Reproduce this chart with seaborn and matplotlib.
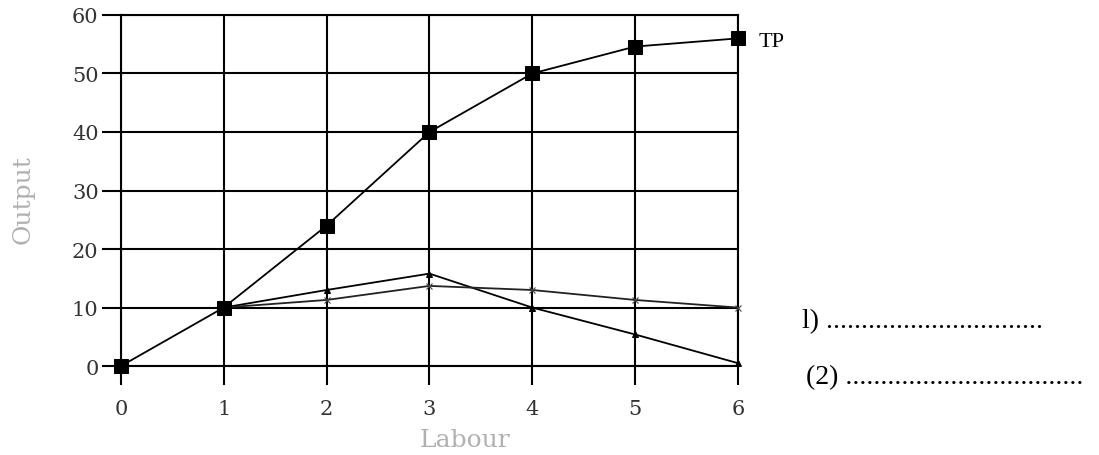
import matplotlib
matplotlib.use("Agg")
import matplotlib.pyplot as plt
import seaborn as sns
import pandas as pd

sns.set_style("white")

labour = [0, 1, 2, 3, 4, 5, 6]
tp = [0, 10, 24, 40, 50, 54.6, 56]
mp_labour = [1, 2, 3, 4, 5, 6]
mp = [10, 13, 15.8, 10, 5.4, 0.5]
ap_labour = [1, 2, 3, 4, 5, 6]
ap = [10, 11.3, 13.7, 13, 11.3, 10]

y_ticks = [0, 10, 20, 30, 40, 50, 60]

tp_df = pd.DataFrame({"Labour": labour, "Output": tp})
mp_df = pd.DataFrame({"Labour": mp_labour, "Output": mp})
ap_df = pd.DataFrame({"Labour": ap_labour, "Output": ap})

fig = plt.figure(figsize=(10.99, 4.56), dpi=100)
ax = fig.add_axes([0.110, 0.195, 0.5615, 0.770])

# grid first so the curves sit on top
ax.set_axisbelow(True)
ax.grid(True, color="black", linewidth=1.5)

sns.lineplot(data=tp_df, x="Labour", y="Output", ax=ax, color="black",
             linewidth=1.3, marker="s", markersize=10, markeredgecolor="black",
             clip_on=False, zorder=5)
sns.lineplot(data=mp_df, x="Labour", y="Output", ax=ax, color="black",
             linewidth=1.3, marker="^", markersize=4, markeredgecolor="black",
             clip_on=False, zorder=4)
sns.lineplot(data=ap_df, x="Labour", y="Output", ax=ax, color="#222222",
             linewidth=1.3, marker="x", markersize=5, markeredgewidth=0.8,
             markeredgecolor="#444444", clip_on=False, zorder=4)

ax.set_xlim(0, 6)
ax.set_ylim(0, 60)
ax.set_xticks(labour)
ax.set_yticks(y_ticks)

for s in ax.spines.values():
    s.set_color("black")
    s.set_linewidth(1.5)

ax.tick_params(axis="both", direction="out", length=14, width=1.5,
               bottom=True, left=True, color="black",
               labelcolor="#333333", labelsize=15)
ax.tick_params(axis="x", pad=10)
ax.tick_params(axis="y", pad=2)
for lbl in ax.get_xticklabels() + ax.get_yticklabels():
    lbl.set_family("DejaVu Serif")

ax.set_xlabel("Labour", family="DejaVu Serif", fontsize=18, color="#b0b0b0")
ax.set_ylabel("Output", family="DejaVu Serif", fontsize=18, color="#b0b0b0")
ax.xaxis.set_label_coords(0.557, -0.175)
ax.yaxis.set_label_coords(-0.14, 0.476)

ax.text(6.2, tp[-1] - 0.5, "TP", family="Liberation Serif", fontsize=16,
        va="center", ha="left", color="black", clip_on=False)

fig.text(802 / 1099, 1 - 322 / 456, "l) " + "." * 31, family="Liberation Serif",
         fontsize=20, va="center", ha="left", color="black")
fig.text(806 / 1099, 1 - 378 / 456, "(2) " + "." * 34, family="Liberation Serif",
         fontsize=20, va="center", ha="left", color="black")

fig.savefig("out.png", dpi=100, facecolor="white")
